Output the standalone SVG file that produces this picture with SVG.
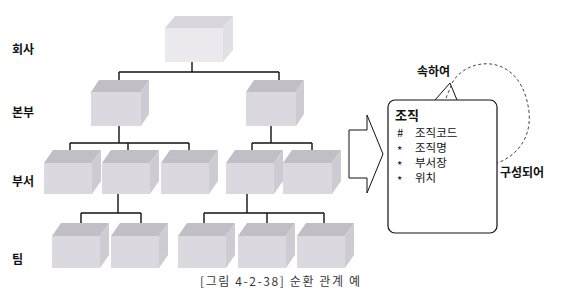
<svg xmlns="http://www.w3.org/2000/svg" width="561" height="294" viewBox="0 0 561 294">
<style>
.lbl{font-family:"Noto Sans CJK KR","Liberation Sans",sans-serif;font-size:12px;font-weight:bold;fill:#111}
.txt{font-family:"Noto Sans CJK KR","Liberation Sans",sans-serif;font-size:11.5px;fill:#111}
.cap{font-family:"Noto Sans CJK KR","Liberation Sans",sans-serif;font-size:12px;fill:#3a3a3a}
.fr{fill:#dcd8e0}
.tp{fill:#c2bec6}
.sd{fill:#cfcbd3}
.fr0{fill:#ebe8ee}
.tp0{fill:#dad6de}
.sd0{fill:#e2dfe6}
.ln{stroke:#111;stroke-width:1.4;fill:none}
</style>
<rect width="561" height="294" fill="#ffffff"/>

<g id="labels">
<text class="lbl" x="12" y="54">회사</text>
<text class="lbl" x="12" y="117">본부</text>
<text class="lbl" x="12" y="186">부서</text>
<text class="lbl" x="12" y="264">팀</text>
</g>

<g id="connectors" class="ln">
<path d="M192,62V72M119,72H279M119,72V86M279,72V86"/>
<path d="M119,126V143M70,143H189M70,143V157M128,143V157M189,143V157"/>
<path d="M271,126V143M252,143H312M252,143V157M312,143V157"/>
<path d="M118,194V213M81,213H141M81,213V228M141,213V228"/>
<path d="M247,194V213M204,213H324M204,213V228M267,213V228M324,213V228"/>
</g>

<g id="company">
<polygon class="tp0" points="165,28 175,16 233,16 223,28"/>
<polygon class="sd0" points="223,28 233,16 233,50 223,62"/>
<rect class="fr0" x="165" y="28" width="58" height="34"/>
</g>

<g id="hq1">
<polygon class="tp" points="91,92 99,80 149,80 141,92"/>
<polygon class="sd" points="141,92 149,80 149,114 141,126"/>
<rect class="fr" x="91" y="92" width="50" height="34"/>
</g>
<g id="hq2">
<polygon class="tp" points="246,92 254,80 304,80 296,92"/>
<polygon class="sd" points="296,92 304,80 304,114 296,126"/>
<rect class="fr" x="246" y="92" width="50" height="34"/>
</g>

<g id="dept1">
<polygon class="tp" points="44,163 53,150 101,150 92,163"/>
<polygon class="sd" points="92,163 101,150 101,181 92,194"/>
<rect class="fr" x="44" y="163" width="48" height="31"/>
</g>
<g id="dept2">
<polygon class="tp" points="102,163 111,150 159,150 150,163"/>
<polygon class="sd" points="150,163 159,150 159,181 150,194"/>
<rect class="fr" x="102" y="163" width="48" height="31"/>
</g>
<g id="dept3">
<polygon class="tp" points="161,163 170,150 218,150 209,163"/>
<polygon class="sd" points="209,163 218,150 218,181 209,194"/>
<rect class="fr" x="161" y="163" width="48" height="31"/>
</g>
<g id="dept4">
<polygon class="tp" points="226,163 235,150 283,150 274,163"/>
<polygon class="sd" points="274,163 283,150 283,181 274,194"/>
<rect class="fr" x="226" y="163" width="48" height="31"/>
</g>
<g id="dept5">
<polygon class="tp" points="283,163 292,150 341,150 332,163"/>
<polygon class="sd" points="332,163 341,150 341,181 332,194"/>
<rect class="fr" x="283" y="163" width="49" height="31"/>
</g>

<g id="team1">
<polygon class="tp" points="52,236 61,223 109,223 100,236"/>
<polygon class="sd" points="100,236 109,223 109,255 100,268"/>
<rect class="fr" x="52" y="236" width="48" height="32"/>
</g>
<g id="team2">
<polygon class="tp" points="111,236 120,223 168,223 159,236"/>
<polygon class="sd" points="159,236 168,223 168,255 159,268"/>
<rect class="fr" x="111" y="236" width="48" height="32"/>
</g>
<g id="team3">
<polygon class="tp" points="178,236 187,223 235,223 226,236"/>
<polygon class="sd" points="226,236 235,223 235,255 226,268"/>
<rect class="fr" x="178" y="236" width="48" height="32"/>
</g>
<g id="team4">
<polygon class="tp" points="238,236 247,223 295,223 286,236"/>
<polygon class="sd" points="286,236 295,223 295,255 286,268"/>
<rect class="fr" x="238" y="236" width="48" height="32"/>
</g>
<g id="team5">
<polygon class="tp" points="297,236 306,223 354,223 345,236"/>
<polygon class="sd" points="345,236 354,223 354,255 345,268"/>
<rect class="fr" x="297" y="236" width="48" height="32"/>
</g>

<g id="arrow">
<polygon points="349,130 367,130 367,115 383,154 367,193 367,178 349,178" fill="#ffffff" stroke="#111" stroke-width="1"/>
</g>

<g id="relation">
<path d="M452,83 C468,55 522,52 529,112 C532,142 512,158 497,163" fill="none" stroke="#444" stroke-width="1" stroke-dasharray="3,2.5"/>
<path d="M446,98 L451,86" fill="none" stroke="#444" stroke-width="1" stroke-dasharray="3,2.5"/>
<path d="M435,100 L450,83 L457,100" fill="none" stroke="#111" stroke-width="1"/>
<text class="lbl" x="417" y="76">속하여</text>
<text class="lbl" x="500" y="177">구성되어</text>
</g>

<g id="entity">
<rect x="388" y="100" width="109" height="133" rx="7" ry="7" fill="#ffffff" stroke="#111" stroke-width="1.2"/>
<text class="lbl" x="395" y="120" style="font-size:13px">조직</text>
<text class="txt" x="397" y="137">#</text>
<text class="txt" x="415" y="137">조직코드</text>
<text class="txt" x="397" y="155">*</text>
<text class="txt" x="415" y="152">조직명</text>
<text class="txt" x="397" y="170">*</text>
<text class="txt" x="415" y="167">부서장</text>
<text class="txt" x="397" y="185">*</text>
<text class="txt" x="415" y="182">위치</text>
</g>

<g id="caption">
<text class="cap" x="200" y="286" textLength="160" lengthAdjust="spacing">[그림 4-2-38] 순환 관계 예</text>
</g>
</svg>
